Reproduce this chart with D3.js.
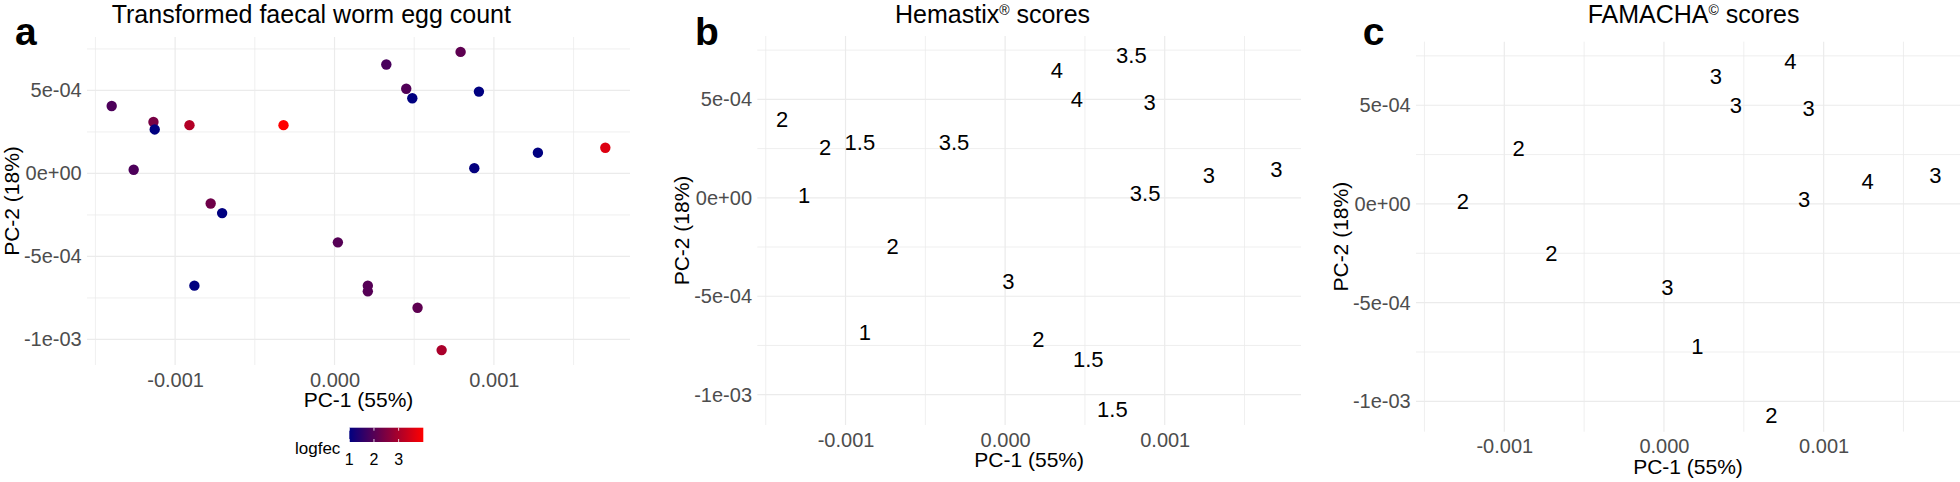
<!DOCTYPE html>
<html>
<head>
<meta charset="utf-8">
<script src="https://cdn.jsdelivr.net/npm/d3@7"></script>
<style>
  body { margin: 0; background: #fff; }
  svg { display: block; }
</style>
</head>
<body>
<div id="chart"></div>
<script>
// PCA scores, one entry per animal (same order in every array)
const pc1 = [-0.001398, -0.001136, -0.001128, -0.000910, -0.000320, -0.001260, -0.000777, -0.000705,
  0.000021, 0.000325, 0.000450, 0.000488, 0.000791, 0.000906, 0.000877, 0.001276, 0.001699,
  -0.000879, 0.000209, 0.000209, 0.000521, 0.000672];
const pc2 = [0.000406, 0.000310, 0.000265, 0.000291, 0.000291, 0.000022, -0.000181, -0.000239,
  -0.000415, 0.000656, 0.000510, 0.000453, 0.000732, 0.000493, 0.000032, 0.000125, 0.000155,
  -0.000676, -0.000676, -0.000710, -0.000809, -0.001064];
const logfec = [1.9, 2.4, 1.0, 3.1, 4.0, 1.9, 2.3, 1.0, 2.0, 1.85, 1.95, 1.0, 2.1, 1.0, 1.05, 1.0,
  3.6, 1.0, 2.0, 2.0, 2.1, 3.0];
const hemastix = ['2', null, '2', '1.5', '3.5', '1', null, '2', '3', '4', '4', null, '3.5', '3',
  '3.5', '3', '3', '1', null, '2', '1.5', '1.5'];
const famacha = [null, null, null, '2', null, '2', null, '2', '3', '3', '3', null, '4', '3', '3',
  '4', '3', null, null, '1', null, '2'];

const xTicks = [-0.001, 0, 0.001];
const xTickLabels = ['-0.001', '0.000', '0.001'];
const xMinor = [-0.0015, -0.0005, 0.0005, 0.0015];
const yTicks = [5e-4, 0, -5e-4, -1e-3];
const yTickLabels = ['5e-04', '0e+00', '-5e-04', '-1e-03'];
const yMinor = [7.5e-4, 2.5e-4, -2.5e-4, -7.5e-4];
const legendTicks = [1, 2, 3];

const FONT = "'Liberation Sans', Arial, Helvetica, sans-serif";

const data = pc1.map((d, i) => ({
  pc1: d,
  pc2: pc2[i],
  logfec: logfec[i],
  hemastix: hemastix[i],
  famacha: famacha[i],
}));

// ggplot style 5% expansion
function expand(ext) {
  const pad = (ext[1] - ext[0]) * 0.05;
  return [ext[0] - pad, ext[1] + pad];
}

const xDomain = expand(d3.extent(data, d => d.pc1));
const yDomain = expand(d3.extent(data, d => d.pc2));

const color = d3.scaleLinear()
  .domain(d3.extent(logfec))
  .range(['#000080', '#ff0000'])
  .interpolate(d3.interpolateRgb);

const svg = d3.select('#chart').append('svg')
  .attr('width', 1960)
  .attr('height', 482)
  .attr('font-family', FONT)
;

svg.append('rect')
  .attr('width', 1960)
  .attr('height', 482)
  .attr('fill', '#fff');

const panels = [
  {
    tag: 'a', tagX: 15, left: 87, right: 630, top: 37, bottom: 365,
    title: ['Transformed faecal worm egg count'], titleX: 111.7, titleY: 22.7,
    yTitleX: 12, kind: 'points',
  },
  {
    tag: 'b', tagX: 695, left: 757.3, right: 1301, top: 36, bottom: 425,
    title: ['Hemastix', '®', ' scores'], titleX: 895, titleY: 22.7,
    yTitleX: 682, kind: 'hemastix',
  },
  {
    tag: 'c', tagX: 1362.7, left: 1416, right: 1960, top: 41.7, bottom: 431.7,
    title: ['FAMACHA', '©', ' scores'], titleX: 1587.7, titleY: 23.3,
    yTitleX: 1341, kind: 'famacha',
  },
];

panels.forEach(p => drawPanel(p));
drawLegend();

function drawPanel(p) {
  const x = d3.scaleLinear().domain(xDomain).range([p.left, p.right]);
  const y = d3.scaleLinear().domain(yDomain).range([p.bottom, p.top]);
  const g = svg.append('g').attr('class', 'panel-' + p.tag);

  // grid: minor first, then major
  const grid = g.append('g')
    .attr('stroke', '#ebebeb')
    .attr('fill', 'none');

  grid.selectAll('.vminor').data(xMinor).enter().append('line')
    .attr('x1', d => x(d)).attr('x2', d => x(d))
    .attr('y1', p.top).attr('y2', p.bottom)
    .attr('stroke-width', 0.8);
  grid.selectAll('.hminor').data(yMinor).enter().append('line')
    .attr('x1', p.left).attr('x2', p.right)
    .attr('y1', d => y(d)).attr('y2', d => y(d))
    .attr('stroke-width', 0.8);
  grid.selectAll('.vmajor').data(xTicks).enter().append('line')
    .attr('x1', d => x(d)).attr('x2', d => x(d))
    .attr('y1', p.top).attr('y2', p.bottom)
    .attr('stroke-width', 1.2);
  grid.selectAll('.hmajor').data(yTicks).enter().append('line')
    .attr('x1', p.left).attr('x2', p.right)
    .attr('y1', d => y(d)).attr('y2', d => y(d))
    .attr('stroke-width', 1.2);

  // axes, labels only
  const ax = g.append('g')
    .attr('transform', `translate(0,${ p.bottom })`)
    .call(
      d3.axisBottom(x)
        .tickValues(xTicks)
        .tickFormat((d, i) => xTickLabels[i])
        .tickSize(0)
        .tickPadding(7.5)
    );
  const ay = g.append('g')
    .attr('transform', `translate(${ p.left },0)`)
    .call(
      d3.axisLeft(y)
        .tickValues(yTicks)
        .tickFormat((d, i) => yTickLabels[i])
        .tickSize(0)
        .tickPadding(5.3)
    );
  [ax, ay].forEach(a => {
    a.select('.domain').remove();
    a.attr('font-family', FONT).attr('font-size', 20);
    a.selectAll('text').attr('fill', '#4d4d4d');
  });

  // axis titles
  g.append('text')
    .attr('x', (p.left + p.right) / 2)
    .attr('y', p.bottom + 42)
    .attr('text-anchor', 'middle')
    .attr('font-size', 21)
    .attr('fill', '#000')
    .text('PC-1 (55%)');

  g.append('text')
    .attr('transform', `translate(${ p.yTitleX },${ (p.top + p.bottom) / 2 }) rotate(-90)`)
    .attr('dy', '0.35em')
    .attr('text-anchor', 'middle')
    .attr('font-size', 21)
    .attr('fill', '#000')
    .text('PC-2 (18%)');

  // title (with superscript mark if any)
  const t = g.append('text')
    .attr('x', p.titleX)
    .attr('y', p.titleY)
    .attr('font-size', 25)
    .attr('fill', '#000');
  t.append('tspan').text(p.title[0]);
  if (p.title.length > 1) {
    t.append('tspan').attr('font-size', 14).attr('dy', -8).text(p.title[1]);
    t.append('tspan').attr('dy', 8).text(p.title[2]);
  }

  // panel tag
  g.append('text')
    .attr('x', p.tagX)
    .attr('y', 45)
    .attr('font-size', 39)
    .attr('font-weight', 'bold')
    .attr('fill', '#000')
    .text(p.tag);

  if (p.kind === 'points') {
    g.append('g').selectAll('circle')
      .data(data)
      .enter().append('circle')
      .attr('cx', d => x(d.pc1))
      .attr('cy', d => y(d.pc2))
      .attr('r', 5.2)
      .attr('fill', d => color(d.logfec));
  } else {
    const key = p.kind;
    g.append('g').selectAll('text')
      .data(data.filter(d => d[key] != null))
      .enter().append('text')
      .attr('x', d => x(d.pc1))
      .attr('y', d => y(d.pc2))
      .attr('dy', '0.43em')
      .attr('text-anchor', 'middle')
      .attr('font-size', 22)
      .attr('fill', '#000')
      .text(d => d[key]);
  }
}

function drawLegend() {
  const bar = { left: 349.3, right: 423.3, top: 427.7, bottom: 442 };
  const lx = d3.scaleLinear().domain(color.domain()).range([bar.left, bar.right]);

  const grad = svg.append('defs').append('linearGradient')
    .attr('id', 'logfecGrad')
    .attr('x1', '0%').attr('x2', '100%')
    .attr('y1', '0%').attr('y2', '0%');
  const dom = color.domain();
  d3.range(0, 1.0001, 0.05).forEach(t => {
    grad.append('stop')
      .attr('offset', (t * 100) + '%')
      .attr('stop-color', color(dom[0] + t * (dom[1] - dom[0])));
  });

  const lg = svg.append('g').attr('class', 'legend');

  lg.append('rect')
    .attr('x', bar.left)
    .attr('y', bar.top)
    .attr('width', bar.right - bar.left)
    .attr('height', bar.bottom - bar.top)
    .attr('fill', 'url(#logfecGrad)');

  // little white tick marks on the bar
  lg.selectAll('.tk-top').data(legendTicks).enter().append('line')
    .attr('x1', d => lx(d)).attr('x2', d => lx(d))
    .attr('y1', bar.top).attr('y2', bar.top + 3)
    .attr('stroke', '#fff').attr('stroke-width', 0.8);
  lg.selectAll('.tk-bot').data(legendTicks).enter().append('line')
    .attr('x1', d => lx(d)).attr('x2', d => lx(d))
    .attr('y1', bar.bottom - 3).attr('y2', bar.bottom)
    .attr('stroke', '#fff').attr('stroke-width', 0.8);

  lg.selectAll('.tl').data(legendTicks).enter().append('text')
    .attr('x', d => lx(d))
    .attr('y', 465)
    .attr('text-anchor', 'middle')
    .attr('font-size', 16)
    .attr('fill', '#000')
    .text(d => d);

  lg.append('text')
    .attr('x', 295)
    .attr('y', 454)
    .attr('font-size', 17)
    .attr('fill', '#000')
    .text('logfec');
}
</script>
</body>
</html>
